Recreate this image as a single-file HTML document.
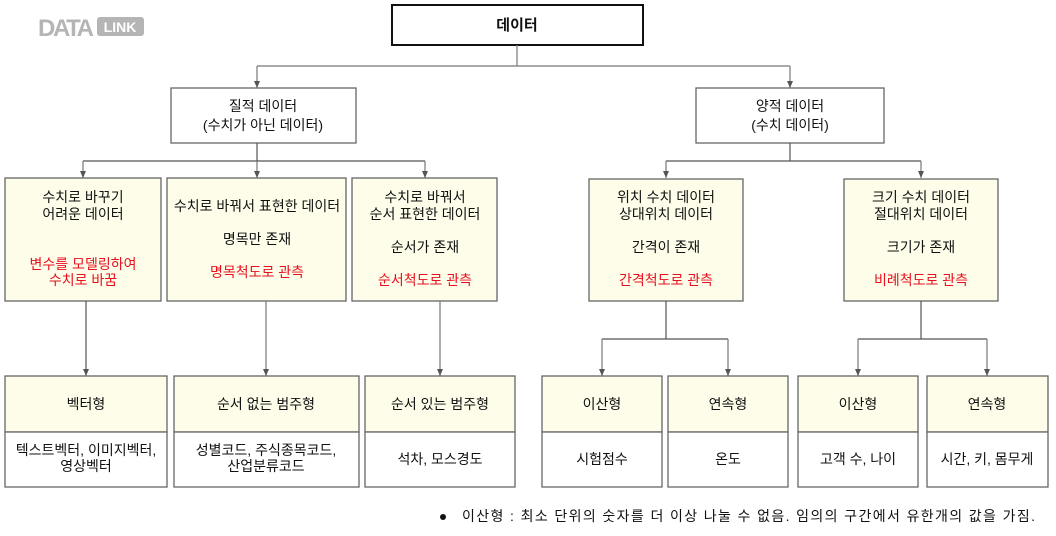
<!DOCTYPE html>
<html><head><meta charset="utf-8"><style>
html,body{margin:0;padding:0;background:#fff;}
svg{display:block;}
text{font-family:"Liberation Sans","Noto Sans CJK KR","NanumGothic",sans-serif;font-size:14px;fill:#111;text-anchor:middle;}
.r{fill:#e8101e;}
.b{fill:#fdfdea;stroke:#666;stroke-width:1.3;}
.w{fill:#fff;stroke:#666;stroke-width:1.3;}
.l{fill:none;stroke:#777;stroke-width:1.2;}
</style></head><body>
<svg width="1056" height="536" viewBox="0 0 1056 536" xmlns="http://www.w3.org/2000/svg">
<defs><marker id="a" markerWidth="8" markerHeight="8" refX="7" refY="3.5" orient="auto" markerUnits="userSpaceOnUse"><path d="M0,0.5 L7,3.5 L0,6.5 z" fill="#555"/></marker></defs>
<!-- logo -->
<text x="38" y="36" textLength="56" style="text-anchor:start;font-size:24px;font-weight:bold;fill:#b5b5b5">DATA</text>
<rect x="97" y="17" width="47" height="19" rx="3" fill="#b5b5b5"/>
<text x="120" y="32" style="font-size:14px;font-weight:bold;fill:#fff">LINK</text>
<!-- root -->
<rect x="392" y="5" width="251" height="40" fill="#fff" stroke="#111" stroke-width="2"/>
<text x="517" y="30" style="font-size:15px;font-weight:bold">데이터</text>
<path class="l" d="M517,45 V66 M257,66 H790"/>
<path class="l" d="M257,66 V88" marker-end="url(#a)"/>
<path class="l" d="M790,66 V88" marker-end="url(#a)"/>
<rect class="w" x="171" y="88" width="185" height="55"/>
<text x="263" y="111">질적 데이터</text><text x="263" y="130">(수치가 아닌 데이터)</text>
<rect class="w" x="696" y="88" width="188" height="55"/>
<text x="790" y="111">양적 데이터</text><text x="790" y="130">(수치 데이터)</text>
<!-- level 2 connectors -->
<path class="l" d="M257,143 V161 M83,161 H425 M790,143 V161 M666,161 H921" style="stroke:#555"/>
<path class="l" d="M83,161 V178" marker-end="url(#a)"/>
<path class="l" d="M257,161 V178" marker-end="url(#a)"/>
<path class="l" d="M425,161 V178" marker-end="url(#a)"/>
<path class="l" d="M666,161 V178" marker-end="url(#a)"/>
<path class="l" d="M921,161 V178" marker-end="url(#a)"/>
<!-- level 2 boxes -->
<rect class="b" x="5" y="178" width="156" height="123"/>
<text x="83" y="202">수치로 바꾸기</text><text x="83" y="219">어려운 데이터</text>
<text class="r" x="83" y="269">변수를 모델링하여</text><text class="r" x="83" y="285">수치로 바꿈</text>
<rect class="b" x="167" y="178" width="179" height="123"/>
<text x="257" y="211">수치로 바꿔서 표현한 데이터</text><text x="257" y="244">명목만 존재</text>
<text class="r" x="257" y="277">명목척도로 관측</text>
<rect class="b" x="352" y="178" width="145" height="123"/>
<text x="425" y="202">수치로 바꿔서</text><text x="425" y="219">순서 표현한 데이터</text>
<text x="425" y="252">순서가 존재</text><text class="r" x="425" y="285">순서척도로 관측</text>
<rect class="b" x="589" y="179" width="154" height="122"/>
<text x="666" y="202">위치 수치 데이터</text><text x="666" y="219">상대위치 데이터</text>
<text x="666" y="252">간격이 존재</text><text class="r" x="666" y="285">간격척도로 관측</text>
<rect class="b" x="844" y="179" width="154" height="122"/>
<text x="921" y="202">크기 수치 데이터</text><text x="921" y="219">절대위치 데이터</text>
<text x="921" y="252">크기가 존재</text><text class="r" x="921" y="285">비례척도로 관측</text>
<!-- level 3 connectors -->
<path class="l" d="M86,301 V376" style="stroke:#555" marker-end="url(#a)"/>
<path class="l" d="M266,301 V376" marker-end="url(#a)"/>
<path class="l" d="M440,301 V376" marker-end="url(#a)"/>
<path class="l" d="M666,301 V339 M602,339 H728 M921,301 V339 M858,339 H987" style="stroke:#555"/>
<path class="l" d="M602,339 V376" marker-end="url(#a)"/>
<path class="l" d="M728,339 V376" marker-end="url(#a)"/>
<path class="l" d="M858,339 V376" marker-end="url(#a)"/>
<path class="l" d="M987,339 V376" marker-end="url(#a)"/>
<!-- bottom boxes -->
<g>
<rect class="b" x="5" y="376" width="162" height="56"/><rect class="w" x="5" y="432" width="162" height="55"/>
<text x="86" y="409">벡터형</text><text x="86" y="455">텍스트벡터, 이미지벡터,</text><text x="86" y="471">영상벡터</text>
<rect class="b" x="174" y="376" width="185" height="56"/><rect class="w" x="174" y="432" width="185" height="55"/>
<text x="266" y="409">순서 없는 범주형</text><text x="266" y="455">성별코드, 주식종목코드,</text><text x="266" y="471">산업분류코드</text>
<rect class="b" x="365" y="376" width="150" height="56"/><rect class="w" x="365" y="432" width="150" height="55"/>
<text x="440" y="409">순서 있는 범주형</text><text x="440" y="464">석차, 모스경도</text>
<rect class="b" x="542" y="376" width="120" height="56"/><rect class="w" x="542" y="432" width="120" height="55"/>
<text x="602" y="409">이산형</text><text x="602" y="464">시험점수</text>
<rect class="b" x="668" y="376" width="120" height="56"/><rect class="w" x="668" y="432" width="120" height="55"/>
<text x="728" y="409">연속형</text><text x="728" y="464">온도</text>
<rect class="b" x="798" y="376" width="120" height="56"/><rect class="w" x="798" y="432" width="120" height="55"/>
<text x="858" y="409">이산형</text><text x="858" y="464">고객 수, 나이</text>
<rect class="b" x="927" y="376" width="121" height="56"/><rect class="w" x="927" y="432" width="121" height="55"/>
<text x="987" y="409">연속형</text><text x="987" y="464">시간, 키, 몸무게</text>
</g>
<circle cx="443" cy="517" r="3" fill="#111"/>
<text x="462" y="521" textLength="573" lengthAdjust="spacing" style="text-anchor:start">이산형 : 최소 단위의 숫자를 더 이상 나눌 수 없음. 임의의 구간에서 유한개의 값을 가짐.</text>
</svg>
</body></html>
